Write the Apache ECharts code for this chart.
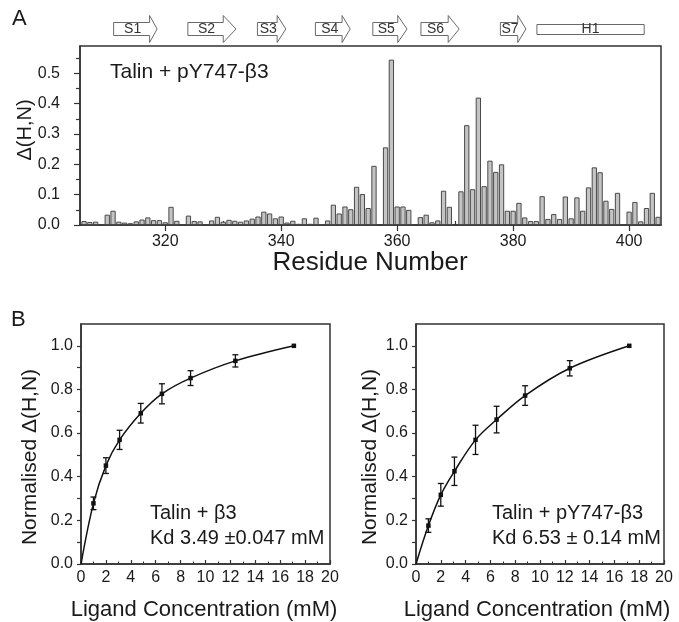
<!DOCTYPE html>
<html><head><meta charset="utf-8">
<script src="https://cdn.jsdelivr.net/npm/echarts@6/dist/echarts.min.js"></script>
<style>html,body{margin:0;padding:0;background:#fff}#c{width:679px;height:622px}</style>
</head><body><div id="c"></div>
<script>
// ---------- Panel A data ----------
const residues = [306,307,308,309,310,311,312,313,314,315,316,317,318,319,320,321,322,323,324,325,
  326,327,328,329,330,331,332,333,334,335,336,337,338,339,340,341,342,343,344,345,
  346,347,348,349,350,351,352,353,354,355,356,357,358,359,360,361,362,363,364,365,
  366,367,368,369,370,371,372,373,374,375,376,377,378,379,380,381,382,383,384,385,
  386,387,388,389,390,391,392,393,394,395,396,397,398,399,400,401,402,403,404,405];
const shiftValues = [0.013,0.010,0.011,null,0.034,0.047,0.011,0.008,0.006,0.012,0.018,0.025,0.016,0.016,0.009,0.060,0.014,null,0.031,0.013,
  0.012,null,0.015,0.027,0.011,0.017,0.014,0.011,0.015,0.021,0.028,0.044,0.038,0.022,0.028,0.008,0.014,0.004,0.022,0.004,
  0.024,0.003,0.015,0.067,0.038,0.061,0.052,0.126,0.102,0.056,0.195,null,0.256,0.545,0.061,0.061,0.050,null,0.026,0.034,
  0.009,0.015,0.113,0.060,null,0.111,0.329,0.118,0.420,0.128,0.212,0.175,0.200,0.047,0.047,0.073,0.025,0.013,0.013,0.095,
  0.020,0.036,0.020,0.094,0.022,0.091,0.047,0.124,0.190,0.174,0.080,0.053,0.106,null,0.044,0.076,0.012,0.056,0.106,0.027];
const topXLabels = [320,340,360,380,400];
const topXMinor = [310,330,350,370,390];
const topYLabels = [0,0.1,0.2,0.3,0.4,0.5];
const topYMinor = [0.05,0.15,0.25,0.35,0.45,0.55];

// secondary structure (residue numbers)
const structNames   = ['S1','S2','S3','S4','S5','S6','S7','H1'];
const structStart   = [311.1,323.9,335.9,345.9,355.8,364.1,377.8,384.1];
const structBodyEnd = [317.3,330.0,339.3,350.5,360.1,368.8,380.8,402.6];
const structEnd     = [318.6,332.2,340.8,351.9,361.7,370.7,382.2,402.6];

// ---------- Panel B data ----------
const concentration = [0,1,2,3.1,4.8,6.5,8.8,12.4,17.1];
const normLeft  = [0,0.278,0.451,0.569,0.691,0.780,0.852,0.931,1.0];
const errLeft   = [0,0.029,0.036,0.044,0.045,0.046,0.034,0.028,0];
const concentrationR = [0,1,2,3.1,4.8,6.5,8.8,12.4,17.2];
const normRight = [0,0.176,0.317,0.425,0.569,0.662,0.772,0.897,1.0];
const errRight  = [0,0.031,0.052,0.065,0.067,0.061,0.045,0.035,0];
const bYLabels = [0,0.2,0.4,0.6,0.8,1.0];
const bYTicks = [0,0.1,0.2,0.3,0.4,0.5,0.6,0.7,0.8,0.9,1.0];

const FONT = 'Liberation Sans, Arial, sans-serif';
const TXT = '#1a1a1a';
const AX = '#333';

const chart = echarts.init(document.getElementById('c'), null, {renderer:'canvas'});

function gridBox(l,t,w,h){return {left:l,top:t,width:w,height:h,show:true,borderColor:AX,borderWidth:1.5,backgroundColor:'transparent',containLabel:false};}

const topMin = 305.3, topMax = 405.5;

function errRender(params, api){
  const x = api.value(0), lo = api.value(1), hi = api.value(2);
  const p1 = api.coord([x, lo]), p2 = api.coord([x, hi]);
  const w = 3;
  const st = {stroke:'#111', lineWidth:1.3};
  return {type:'group', children:[
    {type:'line', shape:{x1:p1[0],y1:p1[1],x2:p2[0],y2:p2[1]}, style:st},
    {type:'line', shape:{x1:p1[0]-w,y1:p1[1],x2:p1[0]+w,y2:p1[1]}, style:st},
    {type:'line', shape:{x1:p2[0]-w,y1:p2[1],x2:p2[0]+w,y2:p2[1]}, style:st}
  ]};
}

function structRender(params, api){
  const s = api.value(0), b = api.value(1), e = api.value(2), idx = api.value(3);
  const name = structNames[idx];
  const c0 = api.coord([s,0.5]);
  const yc = c0[1];
  const x0 = c0[0], xb = api.coord([b,0.5])[0], xe = api.coord([e,0.5])[0];
  const st = {fill:'#fff', stroke:'#6a6a6a', lineWidth:1};
  const children = [];
  if (name.charAt(0) === 'H') {
    children.push({type:'rect', shape:{x:x0, y:yc-4.5, width:xe-x0, height:10}, style:st});
    children.push({type:'text', style:{text:name, x:(x0+xe)/2, y:yc+0.5, align:'center', verticalAlign:'middle', fontSize:14, fontFamily:FONT, fill:'#333'}});
  } else {
    const bh = 6.5, hh = 13.5;
    children.push({type:'polygon', shape:{points:[[x0,yc-bh],[xb,yc-bh],[xb,yc-hh],[xe,yc],[xb,yc+hh],[xb,yc+bh],[x0,yc+bh]]}, style:st});
    children.push({type:'text', style:{text:name, x:(x0+xb)/2+1, y:yc+0.5, align:'center', verticalAlign:'middle', fontSize:14, fontFamily:FONT, fill:'#333'}});
  }
  return {type:'group', children};
}

const barData = [];
residues.forEach((r,i)=>{ if (shiftValues[i] !== null) barData.push([r, shiftValues[i]]); });

function lineData(conc, norm){
  return conc.map((c,i)=>({value:[c, norm[i]], symbol: i===0 ? 'none' : 'rect'}));
}
function errData(conc, norm, err){
  const out = [];
  conc.forEach((c,i)=>{ if (err[i] > 0) out.push([c, norm[i]-err[i], norm[i]+err[i]]); });
  return out;
}

const labelStyle = {color:TXT, fontSize:16, fontFamily:FONT};

function bXAxis(gi){
  return {gridIndex:gi, type:'value', min:0, max:20, interval:2,
    axisLine:{show:true, lineStyle:{color:AX, width:1.5}},
    axisTick:{show:true, inside:true, length:4, lineStyle:{color:AX, width:1.2}},
    minorTick:{show:true, splitNumber:2, length:2.5, lineStyle:{color:AX, width:1}},
    axisLabel:Object.assign({margin:6}, labelStyle),
    splitLine:{show:false}, minorSplitLine:{show:false}};
}
function bYAxis(gi){
  return {gridIndex:gi, type:'value', min:0, max:1.1,
    axisLine:{show:true, lineStyle:{color:AX, width:1.5}},
    axisTick:{show:true, inside:false, length:4, customValues:bYTicks, lineStyle:{color:AX, width:1.2}},
    axisLabel:Object.assign({margin:8, customValues:bYLabels, formatter:v=>v.toFixed(1)}, labelStyle),
    splitLine:{show:false}};
}

const option = {
  animation:false,
  backgroundColor:'#fff',
  grid:[ gridBox(80,46,581,179), {left:80,top:14,width:581,height:30,show:false}, gridBox(81,324,249,240), gridBox(416,324,248,240) ],
  xAxis:[
    {gridIndex:0, type:'value', min:topMin, max:topMax,
      axisLine:{show:true, onZero:false, lineStyle:{color:AX, width:1.5}},
      axisTick:{show:true, length:6, customValues:topXLabels, lineStyle:{color:AX, width:1.2}},
      axisLabel:Object.assign({margin:9, customValues:topXLabels}, labelStyle),
      splitLine:{show:false}},
    {gridIndex:0, type:'value', min:topMin, max:topMax,
      axisLine:{show:false},
      axisTick:{show:true, length:4, customValues:topXMinor, lineStyle:{color:AX, width:1.2}},
      axisLabel:{show:false}, splitLine:{show:false}},
    {gridIndex:1, type:'value', min:topMin, max:topMax, show:false},
    bXAxis(2), bXAxis(3)
  ],
  yAxis:[
    {gridIndex:0, type:'value', min:0, max:0.59,
      axisLine:{show:true, lineStyle:{color:AX, width:1.5}},
      axisTick:{show:true, length:6, customValues:topYLabels, lineStyle:{color:AX, width:1.2}},
      axisLabel:Object.assign({margin:20, customValues:topYLabels, formatter:v=>v.toFixed(1)}, labelStyle),
      splitLine:{show:false}},
    {gridIndex:0, type:'value', min:0, max:0.59, position:'left',
      axisLine:{show:false},
      axisTick:{show:true, length:4, customValues:topYMinor, lineStyle:{color:AX, width:1.2}},
      axisLabel:{show:false}, splitLine:{show:false}},
    {gridIndex:1, type:'value', min:0, max:1, show:false},
    bYAxis(2), bYAxis(3)
  ],
  series:[
    {type:'bar', xAxisIndex:0, yAxisIndex:0, data:barData, barWidth:5.3,
      itemStyle:{color:'#c4c4c4', borderColor:'#4a4a4a', borderWidth:1}, silent:true},
    {type:'custom', xAxisIndex:2, yAxisIndex:2, renderItem:structRender, clip:false,
      data:structNames.map((n,i)=>[structStart[i], structBodyEnd[i], structEnd[i], i])},
    {type:'line', xAxisIndex:3, yAxisIndex:3, data:lineData(concentration, normLeft), smooth:0.35,
      symbolSize:4.5, lineStyle:{color:'#111', width:1.5}, itemStyle:{color:'#111'}},
    {type:'custom', xAxisIndex:3, yAxisIndex:3, renderItem:errRender, data:errData(concentration, normLeft, errLeft)},
    {type:'line', xAxisIndex:4, yAxisIndex:4, data:lineData(concentrationR, normRight), smooth:0.35,
      symbolSize:4.5, lineStyle:{color:'#111', width:1.5}, itemStyle:{color:'#111'}},
    {type:'custom', xAxisIndex:4, yAxisIndex:4, renderItem:errRender, data:errData(concentrationR, normRight, errRight)}
  ],
  graphic:[
    {type:'text', x:12, y:19, style:{text:'A', fontSize:22, fontFamily:FONT, fill:TXT, verticalAlign:'middle'}},
    {type:'text', x:11, y:320, style:{text:'B', fontSize:22, fontFamily:FONT, fill:TXT, verticalAlign:'middle'}},
    {type:'text', x:110, y:72, style:{text:'Talin + pY747-\u03B23', fontSize:21, fontFamily:FONT, fill:TXT, verticalAlign:'middle'}},
    {type:'text', x:25, y:130, rotation:Math.PI/2, style:{text:'\u0394(H,N)', fontSize:20, fontFamily:FONT, fill:TXT, align:'center', verticalAlign:'middle'}},
    {type:'text', x:370, y:263, style:{text:'Residue Number', fontSize:26, fontFamily:FONT, fill:TXT, align:'center', verticalAlign:'middle'}},
    {type:'text', x:150, y:513, style:{text:'Talin + \u03B23', fontSize:20, fontFamily:FONT, fill:TXT, verticalAlign:'middle'}},
    {type:'text', x:150, y:538, style:{text:'Kd 3.49 \u00B10.047 mM', fontSize:20, fontFamily:FONT, fill:TXT, verticalAlign:'middle'}},
    {type:'text', x:492, y:513, style:{text:'Talin + pY747-\u03B23', fontSize:20, fontFamily:FONT, fill:TXT, verticalAlign:'middle'}},
    {type:'text', x:492, y:538, style:{text:'Kd 6.53 \u00B1 0.14 mM', fontSize:20, fontFamily:FONT, fill:TXT, verticalAlign:'middle'}},
    {type:'text', x:204, y:610, style:{text:'Ligand Concentration (mM)', fontSize:22, fontFamily:FONT, fill:TXT, align:'center', verticalAlign:'middle'}},
    {type:'text', x:537, y:610, style:{text:'Ligand Concentration (mM)', fontSize:22, fontFamily:FONT, fill:TXT, align:'center', verticalAlign:'middle'}},
    {type:'text', x:30, y:457, rotation:Math.PI/2, style:{text:'Normalised \u0394(H,N)', fontSize:21, fontFamily:FONT, fill:TXT, align:'center', verticalAlign:'middle'}},
    {type:'text', x:370, y:457, rotation:Math.PI/2, style:{text:'Normalised \u0394(H,N)', fontSize:21, fontFamily:FONT, fill:TXT, align:'center', verticalAlign:'middle'}}
  ]
};
chart.setOption(option);
</script>
</body></html>
